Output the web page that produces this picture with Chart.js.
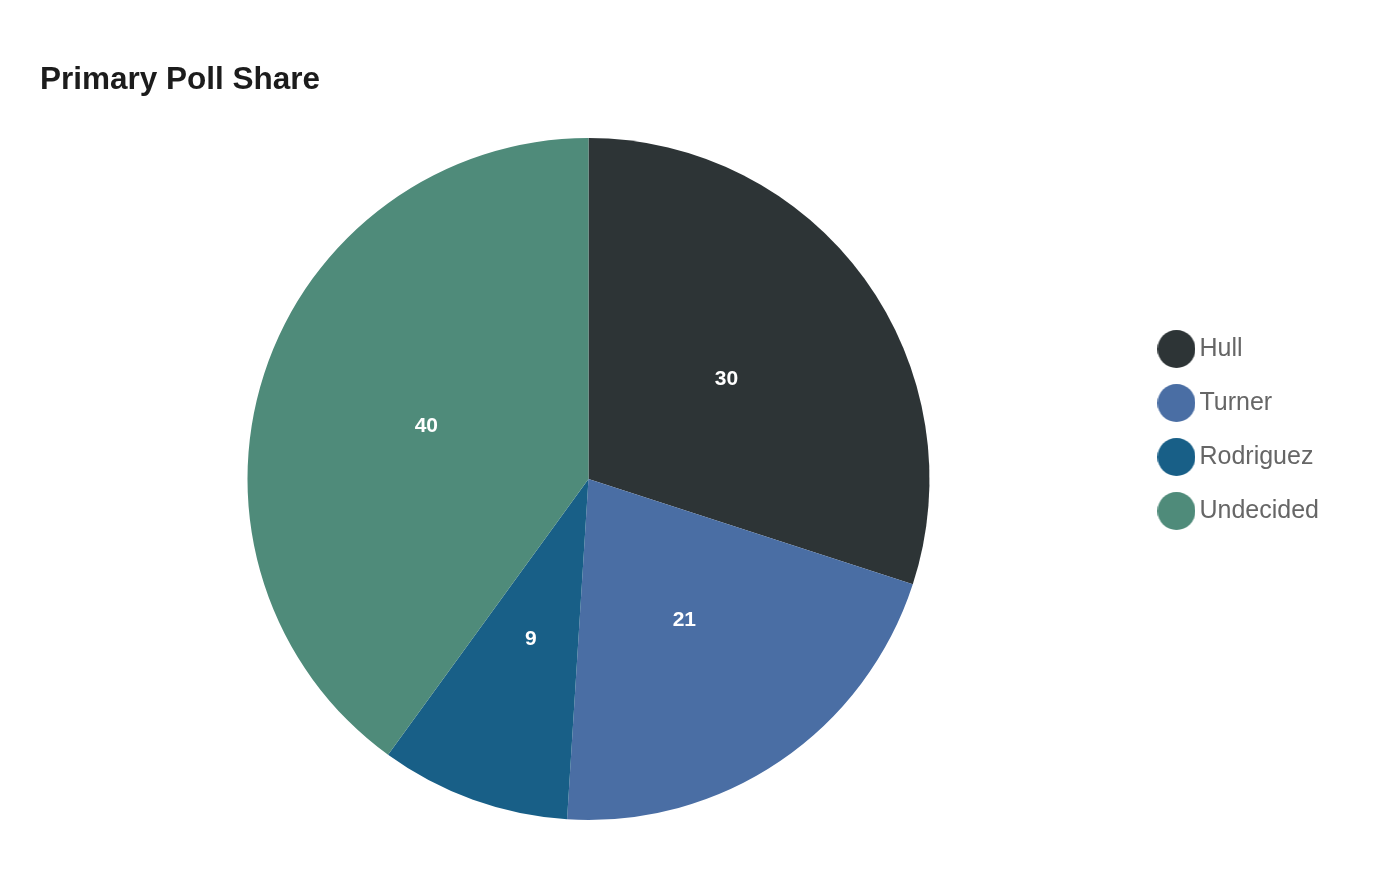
<!DOCTYPE html>
<html>
<head>
<meta charset="utf-8">
<script src="https://cdn.jsdelivr.net/npm/chart.js@4.4.1/dist/chart.umd.min.js"></script>
<style>
  html, body { margin: 0; padding: 0; background: #fff; }
  #wrap { width: 1400px; height: 880px; }
</style>
</head>
<body>
<div id="wrap"><canvas id="poll"></canvas></div>
<script>
const candidates = ['Hull', 'Turner', 'Rodriguez', 'Undecided'];
const shares = [30, 21, 9, 40];
const sliceColors = ['#2d3436', '#4a6ea4', '#185f87', '#4f8b7a'];

const FONT = '"Liberation Sans", Arial, sans-serif';

// legend dots are a bit bigger than the text, so draw them as small images
function dot(color) {
    const c = document.createElement('canvas');
    c.width = 38;
    c.height = 38;
    const g = c.getContext('2d');
    g.fillStyle = color;
    g.beginPath();
    g.arc(19, 19, 19, 0, Math.PI * 2);
    g.fill();
    return c;
}
const dots = sliceColors.map(dot);

// white value text in the middle of each slice
const sliceLabels = {
    id: 'sliceLabels',
    afterDatasetsDraw(chart) {
        const ctx = chart.ctx;
        const meta = chart.getDatasetMeta(0);
        ctx.save();
        ctx.font = 'bold 21px ' + FONT;
        ctx.fillStyle = '#ffffff';
        ctx.textAlign = 'center';
        ctx.textBaseline = 'middle';
        meta.data.forEach((arc, i) => {
            const mid = (arc.startAngle + arc.endAngle) / 2;
            const r = arc.outerRadius / 2;
            ctx.fillText(String(shares[i]), arc.x + Math.cos(mid) * r, arc.y + Math.sin(mid) * r);
        });
        ctx.restore();
    }
};

const chart = new Chart(
    document.getElementById('poll'),
    {
        type: 'pie',
        data: {
            labels: candidates,
            datasets: [
                {
                    label: 'Primary Poll Share',
                    data: shares,
                    backgroundColor: sliceColors,
                    borderWidth: 0
                }
            ]
        },
        options: {
            responsive: true,
            maintainAspectRatio: false,
            animation: false,
            layout: {
                padding: { top: 40, left: 40, right: 71, bottom: 60 }
            },
            plugins: {
                title: {
                    display: true,
                    text: 'Primary Poll Share',
                    align: 'start',
                    color: '#1c1c1c',
                    font: { family: FONT, size: 31.5, weight: 'bold' },
                    padding: { top: 21, bottom: 39.2 }
                },
                legend: {
                    position: 'right',
                    labels: {
                        usePointStyle: true,
                        pointStyleWidth: 21,
                        color: '#666666',
                        padding: 29,
                        font: { family: FONT, size: 25 },
                        generateLabels(chart) {
                            const items = Chart.overrides.pie.plugins.legend.labels.generateLabels(chart);
                            return items.map((item, i) => Object.assign(item, { pointStyle: dots[i] }));
                        }
                    }
                },
                tooltip: { enabled: false }
            }
        },
        plugins: [sliceLabels]
    }
);
</script>
</body>
</html>
